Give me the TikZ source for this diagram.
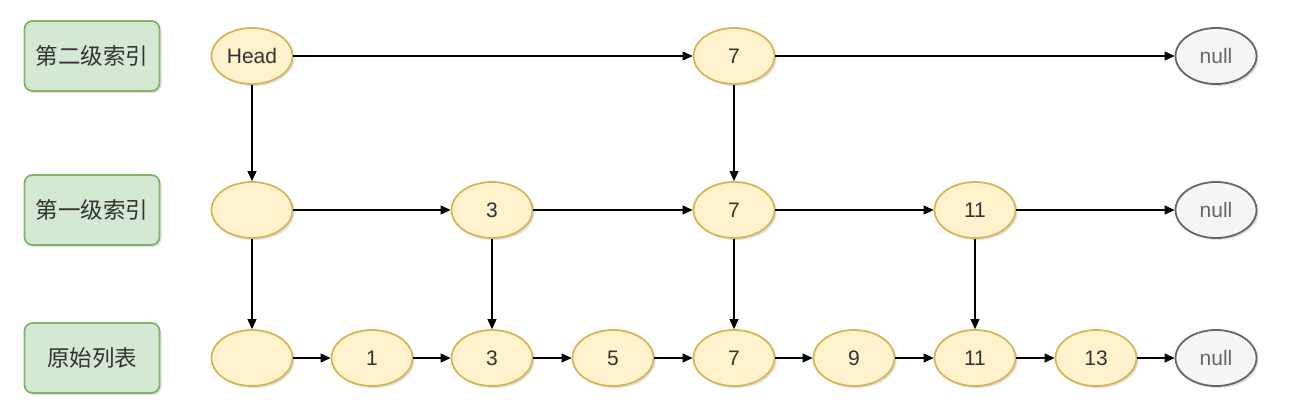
\documentclass[tikz,border=0pt]{standalone}
\usepackage{fontspec}
\setmainfont{Liberation Sans}
\newfontfamily\cjk{Noto Sans CJK SC}
\usetikzlibrary{shapes.geometric,shadows,arrows.meta}
\definecolor{ynode}{HTML}{FFF2CC}
\definecolor{ystroke}{HTML}{D6B656}
\definecolor{gfill}{HTML}{D5E8D4}
\definecolor{gstroke}{HTML}{82B366}
\definecolor{nfill}{HTML}{F5F5F5}
\definecolor{nstroke}{HTML}{666666}
\definecolor{tcol}{HTML}{333333}
\begin{document}
\begin{tikzpicture}[x=1pt,y=-1pt,
  elem/.style={ellipse,draw=ystroke,fill=ynode,line width=1.8pt,minimum width=81pt,minimum height=56pt,inner sep=0pt,text=tcol,font=\fontsize{21}{24}\selectfont,drop shadow={shadow xshift=2pt,shadow yshift=-2pt,opacity=0.25}},
  nullnode/.style={elem,draw=nstroke,fill=nfill,text=nstroke},
  lvl/.style={rectangle,rounded corners=8pt,draw=gstroke,fill=gfill,line width=1.8pt,minimum width=135pt,minimum height=70pt,text=tcol,font=\cjk\fontsize{22.5}{26}\selectfont,drop shadow={shadow xshift=2pt,shadow yshift=-2pt,opacity=0.25}},
  conn/.style={-{Triangle[length=10pt,width=9pt]},line width=1.1pt,black}]
\useasboundingbox (0,0) rectangle (1291,412);
\node[lvl] (L2) at (92,56) {第二级索引};
\node[lvl] (L1) at (92,210) {第一级索引};
\node[lvl] (L0) at (92,358) {原始列表};
% row 2
\node[elem] (h2) at (252,56) {Head};
\node[elem] (s7) at (734,56) {7};
\node[nullnode] (n2) at (1216,56) {null};
% row 1
\node[elem] (h1) at (252,210) {};
\node[elem] (f3) at (492,210) {3};
\node[elem] (f7) at (734,210) {7};
\node[elem] (f11) at (975,210) {11};
\node[nullnode] (n1) at (1216,210) {null};
% row 0
\node[elem] (h0) at (252,358) {};
\node[elem] (o1) at (372,358) {1};
\node[elem] (o3) at (492,358) {3};
\node[elem] (o5) at (613,358) {5};
\node[elem] (o7) at (734,358) {7};
\node[elem] (o9) at (854,358) {9};
\node[elem] (o11) at (975,358) {11};
\node[elem] (o13) at (1096,358) {13};
\node[nullnode] (n0) at (1216,358) {null};
% horizontal
\draw[conn] (h2) -- (s7);
\draw[conn] (s7) -- (n2);
\draw[conn] (h1) -- (f3);
\draw[conn] (f3) -- (f7);
\draw[conn] (f7) -- (f11);
\draw[conn] (f11) -- (n1);
\draw[conn] (h0) -- (o1);
\draw[conn] (o1) -- (o3);
\draw[conn] (o3) -- (o5);
\draw[conn] (o5) -- (o7);
\draw[conn] (o7) -- (o9);
\draw[conn] (o9) -- (o11);
\draw[conn] (o11) -- (o13);
\draw[conn] (o13) -- (n0);
% vertical
\draw[conn] (h2) -- (h1);
\draw[conn] (s7) -- (f7);
\draw[conn] (h1) -- (h0);
\draw[conn] (f3) -- (o3);
\draw[conn] (f7) -- (o7);
\draw[conn] (f11) -- (o11);
\end{tikzpicture}
\end{document}
